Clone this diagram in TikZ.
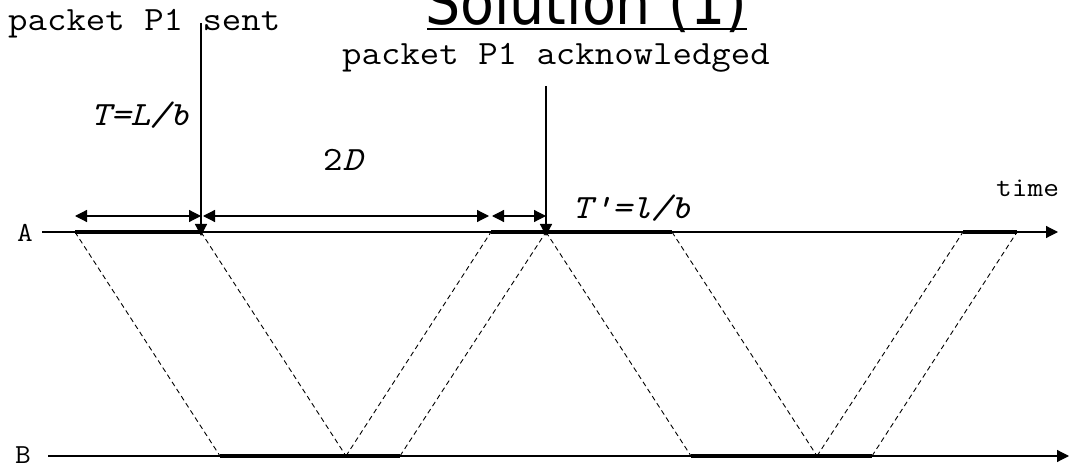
\documentclass[tikz,border=0pt]{standalone}
\usepackage{fontspec}
\usepackage{graphicx}
\newfontfamily\titlefont{DejaVu Sans}
\usetikzlibrary{arrows.meta}
\newcommand{\cw}[1]{\scalebox{1.11}[1]{#1}}
\begin{document}
\begin{tikzpicture}[x=1pt,y=-1pt,
  thinline/.style={line width=1.2pt},
  thickseg/.style={line width=3.6pt},
  prop/.style={line width=0.9pt, dash pattern=on 5pt off 3.5pt},
  dimarrow/.style={line width=1.2pt, {Triangle[length=12pt,width=12pt]}-{Triangle[length=12pt,width=12pt]}},
  ptr/.style={line width=1.2pt, -{Triangle[length=12pt,width=12pt]}},
  axis/.style={line width=1.2pt, -{Triangle[length=12pt,width=12pt]}},
  lbl/.style={font=\ttfamily\fontsize{34}{40}\selectfont, inner sep=0pt, anchor=base west},
  small/.style={font=\ttfamily\fontsize{27.5}{32}\selectfont, inner sep=0pt},
]
\useasboundingbox (0,0) rectangle (1069,465);
\begin{scope}
\clip (0,0) rectangle (1069,465);
% title
\node[inner sep=0pt, anchor=base west, font=\titlefont\fontsize{62}{66}\selectfont] (title) at (425,25) {\scalebox{0.894}[1]{Solution (1)}};
\end{scope}
\draw[line width=2.6pt] (427,29) -- (747,29);

% axes
\node[small] (A) at (25,233) {\cw{A}};
\node[small] (B) at (23,455) {\cw{B}};
\coordinate (Astart) at (42,232);
\coordinate (Aend) at (1058,232);
\coordinate (Bstart) at (48,456);
\coordinate (Bend) at (1069,456);
\draw[axis] (Astart) -- (Aend);
\draw[axis] (Bstart) -- (Bend);
\node[small, anchor=base west] (time) at (996,197) {\cw{time}};

% points on A
\coordinate (a1) at (75,232);
\coordinate (a2) at (201,232);
\coordinate (a3) at (491,232);
\coordinate (a4) at (546,232);
\coordinate (a5) at (672,232);
\coordinate (a6) at (963,232);
\coordinate (a7) at (1017,232);
% points on B
\coordinate (b1) at (220,456);
\coordinate (b2) at (346,456);
\coordinate (b3) at (400,456);
\coordinate (b4) at (691,456);
\coordinate (b5) at (817,456);
\coordinate (b6) at (872,456);

% thick segments
\draw[thickseg] (a1) -- (a2);
\draw[thickseg] (a3) -- (a4);
\draw[thickseg] (a4) -- (a5);
\draw[thickseg] (a6) -- (a7);
\draw[thickseg] (b1) -- (b2);
\draw[thickseg] (b2) -- (b3);
\draw[thickseg] (b4) -- (b5);
\draw[thickseg] (b5) -- (b6);

% propagation
\draw[prop] (a1) -- (b1);
\draw[prop] (a2) -- (b2);
\draw[prop] (b2) -- (a3);
\draw[prop] (b3) -- (a4);
\draw[prop] (a4) -- (b4);
\draw[prop] (a5) -- (b5);
\draw[prop] (b5) -- (a6);
\draw[prop] (b6) -- (a7);

% dimension arrows
\coordinate (d1) at (75,216);
\coordinate (d2) at (201,216);
\coordinate (d3) at (203,216);
\coordinate (d4) at (489,216);
\coordinate (d5) at (492,216);
\coordinate (d6) at (546,216);
\draw[dimarrow] (d1) -- (d2);
\draw[dimarrow] (d3) -- (d4);
\draw[dimarrow] (d5) -- (d6);

% labels
\node[lbl] (sent) at (8,31) {\cw{packet P1 sent}};
\node[lbl] (ack) at (342,65) {\cw{packet P1 acknowledged}};
\coordinate (sentTop) at (201,23);
\coordinate (ackTop) at (546,86);
\coordinate (sentTip) at (201,236);
\coordinate (ackTip) at (546,236);
\draw[ptr] (sentTop) -- (sentTip);
\draw[ptr] (ackTop) -- (ackTip);

\node[lbl, anchor=base east] (T) at (190,126) {\cw{\itshape T=L/b}};
\node[lbl] (twoD) at (323,171) {\cw{2\textit{D}}};
\node[lbl] (Tp) at (572,219) {\cw{\itshape T'=l/b}};
\end{tikzpicture}
\end{document}
